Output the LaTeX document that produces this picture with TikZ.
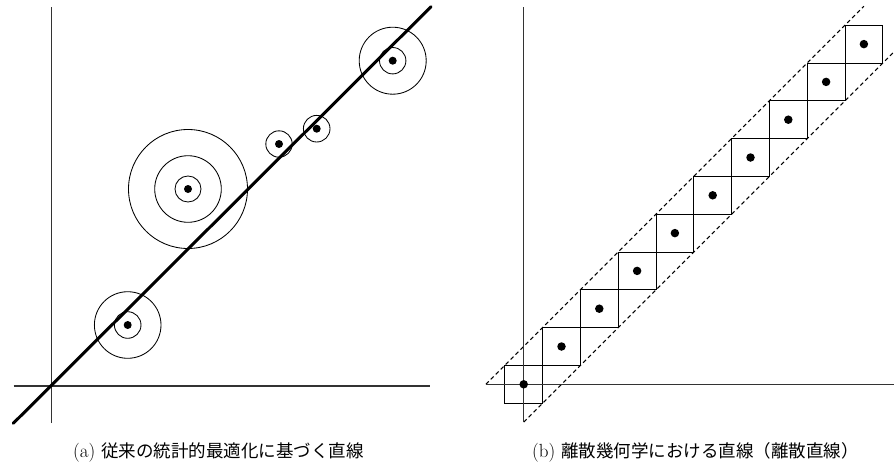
\documentclass[tikz,border=0pt]{standalone}
\usepackage{fontspec}
\newfontfamily\jp{Noto Sans CJK JP}
\begin{document}
\begin{tikzpicture}[x=1pt,y=-1pt,
  axis/.style={draw=black!80,line width=1.2pt},
  fitline/.style={line width=3pt,line cap=round},
  ring/.style={draw,line width=0.85pt},
  dot/.style={circle,fill,draw=none,inner sep=0pt,minimum size=8pt},
  bigdot/.style={circle,fill,draw=none,inner sep=0pt,minimum size=8.5pt},
  cell/.style={draw,line width=0.85pt,minimum size=37.8pt,inner sep=0pt},
  band/.style={line width=1.1pt,dash pattern=on 4pt off 3pt},
  captext/.style={anchor=base west,inner sep=0pt,font=\fontsize{19}{21}\selectfont},
  jptext/.style={font=\fontsize{17.5}{21}\selectfont\jp}
]
\useasboundingbox (0,0) rectangle (894,472);

% ---------- (a) left panel ----------
\coordinate (yLtop) at (51.7,7);
\coordinate (yLbot) at (51.7,423);
\coordinate (xLl) at (13.7,386);
\coordinate (xLr) at (430,386);
\draw[axis] (yLbot) -- (yLtop);
\draw[axis] (xLl) -- (xLr);

\coordinate (pA) at (127.7,325);
\coordinate (pB) at (188,189);
\coordinate (pC) at (279,144);
\coordinate (pD) at (316.7,128.7);
\coordinate (pE) at (392.7,60.7);

\draw[ring] (pA) circle[radius=13.3];
\draw[ring] (pA) circle[radius=33.3];
\draw[ring] (pB) circle[radius=13];
\draw[ring] (pB) circle[radius=33.3];
\draw[ring] (pB) circle[radius=59.5];
\draw[ring] (pC) circle[radius=13.2];
\draw[ring] (pD) circle[radius=13.3];
\draw[ring] (pE) circle[radius=13.2];
\draw[ring] (pE) circle[radius=33.5];

\coordinate (fL1) at (13.3,423.3);
\coordinate (fL2) at (431,6.7);
\draw[fitline] (fL1) -- (fL2);

\node[dot] (dA) at (pA) {};
\node[dot] (dB) at (pB) {};
\node[dot] (dC) at (pC) {};
\node[dot] (dD) at (pD) {};
\node[dot] (dE) at (pE) {};

% ---------- (b) right panel ----------
\coordinate (yRtop) at (523.7,6.7);
\coordinate (yRbot) at (523.7,421.7);
\coordinate (xRl) at (486,384.3);
\coordinate (xRr) at (894,384.3);

\begin{scope}[shift={(523.7,384.3)},x=37.8pt,y=37.8pt]
  \foreach \i in {0,...,9} {
    \node[cell] (c\i) at (\i,\i) {};
  }
  \coordinate (u1) at (-1,0);
  \coordinate (u2) at (9,10);
  \coordinate (l1) at (0,-1);
  \coordinate (l2) at (10,9);
  \draw[band] (u1) -- (u2);
  \draw[band] (l1) -- (l2);
\end{scope}

\draw[axis] (yRbot) -- (yRtop);
\draw[axis] (xRl) -- (xRr);

\foreach \i in {0,...,9} {
  \node[bigdot] (d\i) at (c\i.center) {};
}

% ---------- captions ----------
\node[captext] (capA) at (73,457) {(a) {\fontsize{17.5}{21}\selectfont\jp 従来の統計的最適化に基づく直線}};
\node[captext] (capB) at (532,457) {(b) {\fontsize{17.5}{21}\selectfont\jp 離散幾何学における直線（離散直線）}};
\end{tikzpicture}
\end{document}
